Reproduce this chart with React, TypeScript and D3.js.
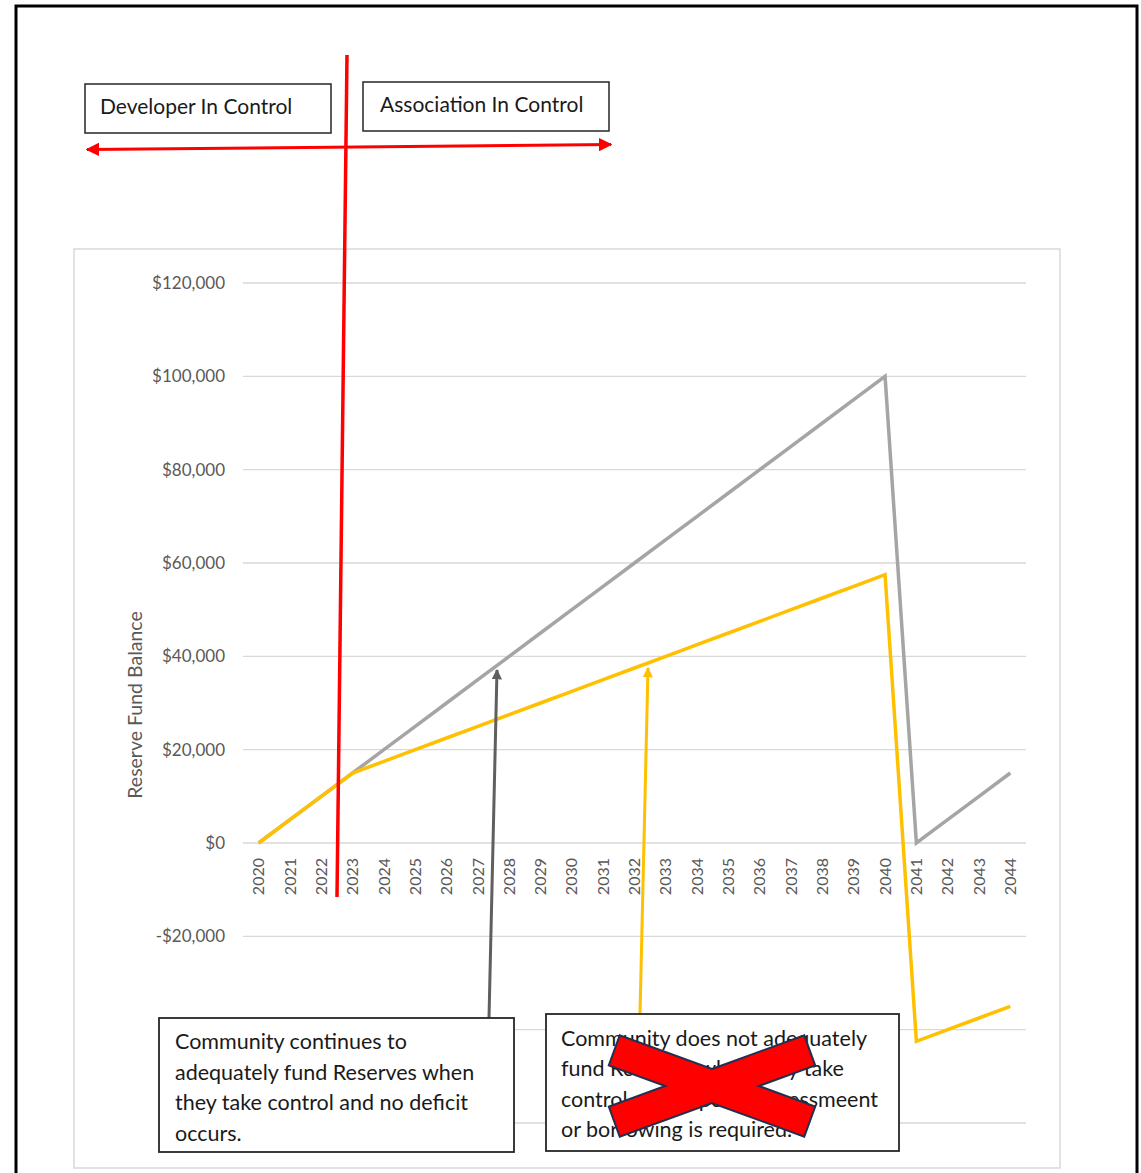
import React from "react";
import * as d3 from "d3";

const years = ["2020","2021","2022","2023","2024","2025","2026","2027","2028","2029","2030","2031","2032","2033","2034","2035","2036","2037","2038","2039","2040","2041","2042","2043","2044"];
const fullyFunded = [0,5000,10000,15000,20000,25000,30000,35000,40000,45000,50000,55000,60000,65000,70000,75000,80000,85000,90000,95000,100000,0,5000,10000,15000];
const underFunded = [0,5000,10000,15000,17500,20000,22500,25000,27500,30000,32500,35000,37500,40000,42500,45000,47500,50000,52500,55000,57500,-42500,-40000,-37500,-35000];
const yGrid = [-60000,-40000,-20000,0,20000,40000,60000,80000,100000,120000];
const yLabels = [-20000,0,20000,40000,60000,80000,100000,120000];
const yTitle = "Reserve Fund Balance";
const topLabels = ["Developer In Control", "Association In Control"];
const goodNote = ["Community continues to", "adequately fund Reserves when", "they take control and no deficit", "occurs."];
const badNote = ["Community does not adequately", "fund Reserves when they take", "control and a special assessmeent", "or borrowing is required."];

const FONT = "Lato, 'Open Sans', sans-serif";

function fmt(v: number) {
  const s = "$" + d3.format(",")(Math.abs(v));
  return v < 0 ? "-" + s : s;
}

function xShape(cx: number, cy: number, L: number, t: number, deg: number) {
  const th = (deg * Math.PI) / 180;
  const c = Math.cos(th), s = Math.sin(th);
  const dA = [c, s], nA = [-s, c], dB = [c, -s], nB = [s, c];
  const p = (a: number[], ka: number, b: number[], kb: number) => [cx + a[0] * ka + b[0] * kb, cy + a[1] * ka + b[1] * kb];
  const pts = [
    [cx, cy - t / c],
    p(dB, L, nB, -t),
    p(dB, L, nB, t),
    [cx + t / s, cy],
    p(dA, L, nA, -t),
    p(dA, L, nA, t),
    [cx, cy + t / c],
    p(dB, -L, nB, t),
    p(dB, -L, nB, -t),
    [cx - t / s, cy],
    p(dA, -L, nA, t),
    p(dA, -L, nA, -t),
  ];
  return pts.map((q) => q.join(",")).join(" ");
}

export default function App() {
  const W = 1141, H = 1173;
  const x = d3.scaleBand<string>().domain(years).range([243, 1026]).padding(0);
  const y = d3.scaleLinear().domain([0, 120000]).range([843, 283]);
  const cxp = (yr: string) => (x(yr) as number) + x.bandwidth() / 2;
  const line = d3.line<number>().x((_, i) => cxp(years[i])).y((v) => y(v));

  return (
    <svg width={W} height={H} style={{ position: "absolute", left: 0, top: 0, display: "block", background: "#fff" }} fontFamily={FONT}>
      <defs>
        <marker id="redHead" viewBox="0 0 10 10" refX="9" refY="5" markerWidth="4.5" markerHeight="4.5" orient="auto-start-reverse">
          <path d="M0,0 L10,5 L0,10 z" fill="#ff0000" />
        </marker>
        <marker id="greyHead" viewBox="0 0 10 10" refX="9" refY="5" markerWidth="3.5" markerHeight="3.5" orient="auto">
          <path d="M0,0 L10,5 L0,10 z" fill="#5f5f5f" />
        </marker>
        <marker id="yellowHead" viewBox="0 0 10 10" refX="9" refY="5" markerWidth="3.5" markerHeight="3.5" orient="auto">
          <path d="M0,0 L10,5 L0,10 z" fill="#ffc000" />
        </marker>
      </defs>
      <rect x={0} y={0} width={W} height={H} fill="#fff" />
      {/* outer frame */}
      <rect x={16} y={6} width={1121} height={1200} fill="none" stroke="#000" strokeWidth={3} />
      {/* chart area */}
      <rect x={74} y={249} width={986} height={919} fill="#fff" stroke="#d9d9d9" strokeWidth={1.5} />
      {/* gridlines */}
      {yGrid.map((t) => (
        <line key={t} x1={243} x2={1026} y1={y(t)} y2={y(t)} stroke="#d9d9d9" strokeWidth={1.4} />
      ))}
      {/* y labels */}
      {yLabels.map((t) => (
        <text key={"l" + t} x={225} y={y(t)} dy="0.35em" textAnchor="end" fontSize={17} fill="#595959">{fmt(t)}</text>
      ))}
      <text transform={`translate(142,705) rotate(-90)`} textAnchor="middle" fontSize={19.5} fill="#595959">{yTitle}</text>
      {/* x labels */}
      {years.map((yr) => (
        <text key={yr} transform={`translate(${cxp(yr)},858) rotate(-90)`} dy="0.35em" textAnchor="end" fontSize={16} fill="#595959">{yr}</text>
      ))}
      {/* series */}
      <path d={line(fullyFunded) as string} fill="none" stroke="#a5a5a5" strokeWidth={3.5} strokeLinejoin="miter" />
      <path d={line(underFunded) as string} fill="none" stroke="#ffc000" strokeWidth={3.5} strokeLinejoin="miter" />
      {/* red control lines */}
      <line x1={347} y1={55} x2={337} y2={897} stroke="#ff0000" strokeWidth={3.5} />
      <line x1={87} y1={149.5} x2={611} y2={144.5} stroke="#ff0000" strokeWidth={3} markerStart="url(#redHead)" markerEnd="url(#redHead)" />
      {/* top boxes */}
      <rect x={85} y={84} width={246} height={49} fill="#fff" stroke="#262626" strokeWidth={1.5} />
      <text x={100} y={114} fontSize={21} fill="#1a1a1a">{topLabels[0]}</text>
      <rect x={363} y={82} width={246} height={49} fill="#fff" stroke="#262626" strokeWidth={1.5} />
      <text x={380} y={112} fontSize={21} fill="#1a1a1a">{topLabels[1]}</text>
      {/* annotation arrows */}
      <line x1={489} y1={1018} x2={497} y2={670} stroke="#5f5f5f" strokeWidth={3} markerEnd="url(#greyHead)" />
      <line x1={640} y1={1014} x2={648} y2={668} stroke="#ffc000" strokeWidth={3} markerEnd="url(#yellowHead)" />
      {/* bottom boxes */}
      <rect x={159} y={1018} width={355} height={134} fill="#fff" stroke="#262626" strokeWidth={1.8} />
      {goodNote.map((s, i) => (
        <text key={s} x={175} y={1049 + i * 30.7} fontSize={21.5} fill="#1a1a1a">{s}</text>
      ))}
      <rect x={546} y={1014} width={353} height={137} fill="#fff" stroke="#262626" strokeWidth={1.8} />
      {badNote.map((s, i) => (
        <text key={s} x={561} y={1046 + i * 30.3} fontSize={21.5} fill="#1a1a1a">{s}</text>
      ))}
      <polygon points={xShape(712, 1086, 104, 16, 20)} fill="#ff0000" stroke="#1f3050" strokeWidth={2} strokeLinejoin="miter" />
    </svg>
  );
}
